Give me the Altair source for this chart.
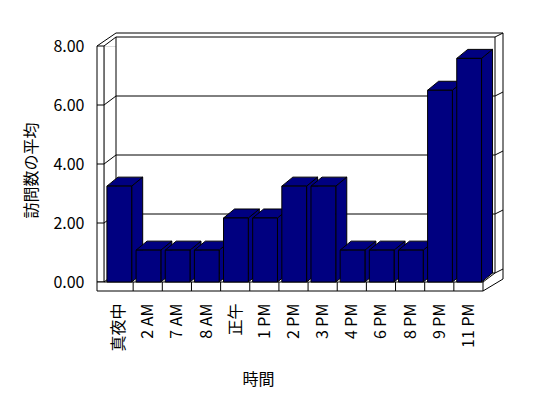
import json
import altair as alt
import pandas as pd

# ---- data ----
categories = ["真夜中", "2 AM", "7 AM", "8 AM", "正午", "1 PM", "2 PM",
              "3 PM", "4 PM", "6 PM", "8 PM", "9 PM", "11 PM"]
values = [3.25, 1.08, 1.08, 1.08, 2.17, 2.17, 3.25, 3.25, 1.08, 1.08, 1.08, 6.5, 7.58]
y_ticks = [0, 2, 4, 6, 8]

# ---- geometry (plot area and pseudo-3D depth) ----
W, H = 379, 236
XMAX, YMAX = len(categories), 8
PX, PY = W / XMAX, H / YMAX


def ux(p):
    return p / PX


def uy(p):
    return p / PY


D, E = ux(12), uy(9)        # wall depth
BD, BE = ux(11), uy(9)      # bar depth
TX, TY = ux(7), uy(9)       # wall / floor thickness (front faces)
BTX, BTY = ux(8), uy(4)     # back wall thickness
GL, GR = 0.1, 0.95          # bar front face inside its band

FONT = "Noto Sans CJK JP"
NAVY = "#000080"

xs = alt.Scale(domain=[0, XMAX], nice=False, zero=False)
ys = alt.Scale(domain=[0, YMAX], nice=False, zero=False)

label_arr = json.dumps(categories, ensure_ascii=False)
xaxis = alt.Axis(values=[i + 0.5 for i in range(XMAX)],
                 labelExpr=f"{label_arr}[floor(datum.value)]",
                 title="時間", ticks=False, domain=False, grid=False,
                 labelAngle=270, labelPadding=21, labelFontSize=16,
                 labelFont=FONT, labelColor="black", labelOverlap=False,
                 labelFlush=False,
                 titleFont=FONT, titleFontSize=16, titleFontWeight="normal",
                 titleColor="black", titleX=154, titleY=97,
                 titleBaseline="middle", titleAlign="center")
yaxis = alt.Axis(values=y_ticks, format=".2f", title="訪問数の平均",
                 ticks=False, domain=False, grid=False, labelPadding=20,
                 labelFontSize=16, labelFont=FONT, labelColor="black",
                 labelFlush=False,
                 titleFont=FONT, titleFontSize=16, titleFontWeight="normal",
                 titleColor="black", titleX=-73, titleY=124,
                 titleBaseline="middle", titleAlign="center")


def X(**kw):
    return alt.X("x:Q", scale=xs, axis=xaxis, **kw)


def Y(**kw):
    return alt.Y("y:Q", scale=ys, axis=yaxis, **kw)


# ---- walls and floor ----
walls = pd.DataFrame([
    {"x": D, "x2": XMAX + D, "y": E, "y2": YMAX + E},     # back wall
    {"x": -TX, "x2": 0, "y": 0, "y2": YMAX},             # left wall front face
    {"x": -TX, "x2": XMAX, "y": -TY, "y2": 0},           # floor front face
])
walls_layer = alt.Chart(walls).mark_rect(
    fill="white", stroke="black", strokeWidth=1
).encode(x=X(), x2="x2:Q", y=Y(), y2="y2:Q")

segs = []
for v in y_ticks:
    segs.append({"x": 0, "x2": D, "y": v, "y2": v + E})                      # left wall grid
    segs.append({"x": XMAX + D, "x2": XMAX + D + BTX, "y": v + E, "y2": v + E + BTY})
for v in y_ticks[1:-1]:
    segs.append({"x": D, "x2": XMAX + D, "y": v + E, "y2": v + E})            # back grid
    segs.append({"x": -TX, "x2": 0, "y": v, "y2": v})                        # wall front ticks
segs.append({"x": -TX, "x2": D, "y": YMAX, "y2": YMAX + E + BTY})
segs.append({"x": D, "x2": XMAX + D + BTX, "y": YMAX + E + BTY, "y2": YMAX + E + BTY})
segs.append({"x": XMAX + D + BTX, "x2": XMAX + D + BTX, "y": YMAX + E + BTY, "y2": uy(3)})
segs.append({"x": XMAX, "x2": XMAX + D, "y": 0, "y2": E})
segs.append({"x": XMAX, "x2": XMAX + D + BTX, "y": -TY, "y2": uy(3)})
for i in range(1, XMAX):
    segs.append({"x": i, "x2": i, "y": -TY, "y2": 0})
rules_layer = alt.Chart(pd.DataFrame(segs)).mark_rule(
    color="black", strokeWidth=1
).encode(x=X(), x2="x2:Q", y=Y(), y2="y2:Q")

# ---- bars: side faces, top faces, front faces ----
sides, tops, fronts = [], [], []
for i, v in enumerate(values):
    x1, x2 = i + GL, i + GR
    sides.append({"id": i, "x": x2, "y": v, "y2": 0})
    sides.append({"id": i, "x": x2 + BD, "y": v + BE, "y2": BE})
    tops.append({"id": i, "y": v, "x": x1, "x2": x2})
    tops.append({"id": i, "y": v + BE, "x": x1 + BD, "x2": x2 + BD})
    fronts.append({"id": i, "cat": categories[i], "x": x1, "x2": x2, "y": 0, "y2": v})

side_layer = alt.Chart(pd.DataFrame(sides)).mark_area(
    fill=NAVY, stroke="black", strokeWidth=1
).encode(x=X(), y=Y(stack=False), y2="y2:Q", detail="id:N")

top_layer = alt.Chart(pd.DataFrame(tops)).mark_area(
    orient="horizontal", fill=NAVY, stroke="black", strokeWidth=1
).encode(y=Y(), x=X(stack=False), x2="x2:Q", detail="id:N")

front_layer = alt.Chart(pd.DataFrame(fronts)).mark_rect(
    fill=NAVY, stroke="black", strokeWidth=1
).encode(x=X(), x2="x2:Q", y=Y(), y2="y2:Q")

chart = alt.layer(
    walls_layer, rules_layer, side_layer, top_layer, front_layer
).properties(
    width=W, height=H,
    autosize=alt.AutoSizeParams(type="none"),
    padding={"left": 104, "top": 46, "right": 548 - 104 - W, "bottom": 398 - 46 - H},
    background="white",
).configure_view(strokeWidth=0).configure(font=FONT)

chart.save("out.html", embed_options={"renderer": "svg", "actions": False})
